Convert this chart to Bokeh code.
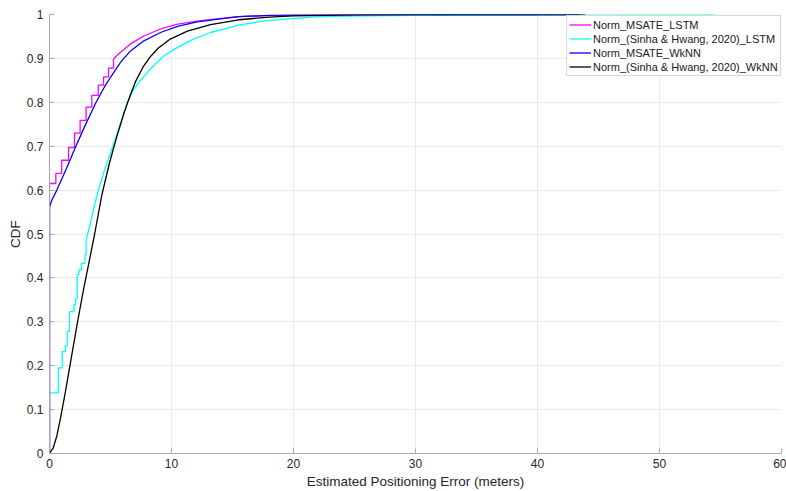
from bokeh.plotting import figure
from bokeh.models import FixedTicker, CustomJSTickFormatter, Range1d, Legend, LegendItem
from bokeh.embed import file_html
from bokeh.resources import INLINE

# ---- data ----
mag_step_x = [0, 0.52, 1.00, 1.56, 2.05, 2.51, 3.00, 3.47, 4.00, 4.43, 4.84, 5.25]
mag_step_y = [0.615, 0.638, 0.668, 0.697, 0.730, 0.759, 0.789, 0.816, 0.839, 0.858, 0.878, 0.898]
mag_tail_x = [5.5, 5.82, 6.64, 7.73, 9.1, 10.5, 12.1, 13.7, 15.5, 18.0, 22.0, 30.0, 40.0]
mag_tail_y = [0.906, 0.914, 0.933, 0.951, 0.967, 0.978, 0.985, 0.990, 0.995, 0.998, 0.999, 0.9995, 1.0]

cyan_step_x = [0, 0.73, 1.04, 1.30, 1.45, 1.64, 2.00, 2.13, 2.27, 2.40, 2.62, 2.90, 3.00]
cyan_step_y = [0.138, 0.195, 0.232, 0.245, 0.278, 0.323, 0.339, 0.352, 0.407, 0.418, 0.433, 0.452, 0.486]
cyan_tail_x = [3.4, 3.9, 4.5, 5.2, 5.8, 6.4, 6.9, 7.32, 8.28, 9.37, 10.5, 11.8, 13.2, 15.5, 17.5, 19.5, 22.2, 26, 30, 40, 54.6]
cyan_tail_y = [0.53, 0.59, 0.645, 0.70, 0.75, 0.80, 0.83, 0.845, 0.876, 0.906, 0.925, 0.944, 0.959, 0.976, 0.985, 0.99, 0.995, 0.997, 0.998, 0.999, 1.0]

blue_x = [0, 0, 0.19, 0.6, 1.4, 2.16, 3.0, 3.82, 4.5, 5.0, 5.82, 6.64, 7.73, 9.1, 10.5, 12.1, 13.7, 15.5, 18, 20, 25, 30, 43.5]
blue_y = [0, 0.562, 0.577, 0.6, 0.65, 0.7, 0.752, 0.8, 0.835, 0.857, 0.891, 0.917, 0.94, 0.959, 0.973, 0.983, 0.989, 0.995, 0.998, 0.999, 0.9995, 0.9998, 1.0]

black_x = [0, 0.3, 0.6, 0.9, 1.3, 1.8, 2.3, 2.8, 3.2, 3.7, 4.3, 4.9, 5.5, 6.1, 6.6, 7.1, 7.7, 8.3, 8.9, 9.9, 11.3, 13.2, 15.5, 18, 20, 25, 30, 43.9]
black_y = [0, 0.012, 0.04, 0.08, 0.14, 0.22, 0.30, 0.375, 0.43, 0.5, 0.59, 0.66, 0.72, 0.775, 0.815, 0.85, 0.882, 0.905, 0.923, 0.944, 0.962, 0.977, 0.988, 0.994, 0.997, 0.999, 0.9995, 1.0]

names = ["Norm_MSATE_LSTM", "Norm_(Sinha & Hwang, 2020)_LSTM",
         "Norm_MSATE_WkNN", "Norm_(Sinha & Hwang, 2020)_WkNN"]
colors = ["#ff00ff", "#00ffff", "#0000ff", "#000000"]
x_ticks = [0, 10, 20, 30, 40, 50, 60]
y_ticks = [0, 0.1, 0.2, 0.3, 0.4, 0.5, 0.6, 0.7, 0.8, 0.9, 1]


def stair_then_line(sx, sy, tx, ty):
    xs, ys = [0.0], [0.0]
    prev = 0.0
    for x, y in zip(sx, sy):
        xs += [x, x]
        ys += [prev, y]
        prev = y
    xs += list(tx)
    ys += list(ty)
    return xs, ys


FONT = "Liberation Sans"
p = figure(width=786, height=491, output_backend="svg", toolbar_location=None,
           x_range=Range1d(0, 60), y_range=Range1d(0, 1),
           min_border_left=49, min_border_right=5, min_border_top=14, min_border_bottom=37)
p.outline_line_color = None
p.background_fill_color = "white"

for ax in (p.xaxis[0], p.yaxis[0]):
    ax.axis_line_color = "#a8a8a8"
    ax.major_tick_line_color = "#a8a8a8"
    ax.major_tick_in = 5
    ax.major_tick_out = 0
    ax.minor_tick_line_color = None
    ax.major_label_text_font = FONT
    ax.major_label_text_font_size = "12px"
    ax.major_label_text_color = "#262626"
    ax.axis_label_text_font = FONT
    ax.axis_label_text_font_size = "13.5px"
    ax.axis_label_text_font_style = "normal"
    ax.axis_label_text_color = "#262626"
    ax.formatter = CustomJSTickFormatter(code="return String(tick);")

p.xaxis[0].ticker = FixedTicker(ticks=x_ticks)
p.yaxis[0].ticker = FixedTicker(ticks=y_ticks)
p.xaxis[0].axis_label = "Estimated Positioning Error (meters)"
p.yaxis[0].axis_label = "CDF"
p.xaxis[0].major_label_standoff = 5
p.xaxis[0].axis_label_standoff = 3
p.yaxis[0].major_label_standoff = 6
p.yaxis[0].axis_label_standoff = 1

p.xgrid.ticker = FixedTicker(ticks=x_ticks)
p.ygrid.ticker = FixedTicker(ticks=y_ticks)
p.xgrid.grid_line_color = "#ebebeb"
p.ygrid.grid_line_color = "#ebebeb"

mx, my = stair_then_line(mag_step_x, mag_step_y, mag_tail_x, mag_tail_y)
cx, cy = stair_then_line(cyan_step_x, cyan_step_y, cyan_tail_x, cyan_tail_y)
series = [(mx, my), (cx, cy), (blue_x, blue_y), (black_x, black_y)]

items = []
for (xs, ys), name, col in zip(series, names, colors):
    r = p.line(xs, ys, line_color=col, line_width=1.3)
    items.append(LegendItem(label=name, renderers=[r]))

legend = Legend(items=items, location=(517, 377), margin=0,
                label_text_font=FONT, label_text_font_size="11px",
                label_text_color="#1a1a1a",
                glyph_width=22, glyph_height=13, label_height=13,
                spacing=1, padding=2, label_standoff=2,
                border_line_color="#b0b0b0", border_line_width=1,
                background_fill_color="white", background_fill_alpha=1.0)
p.add_layout(legend)

open("out.html", "w").write(file_html(p, INLINE))
